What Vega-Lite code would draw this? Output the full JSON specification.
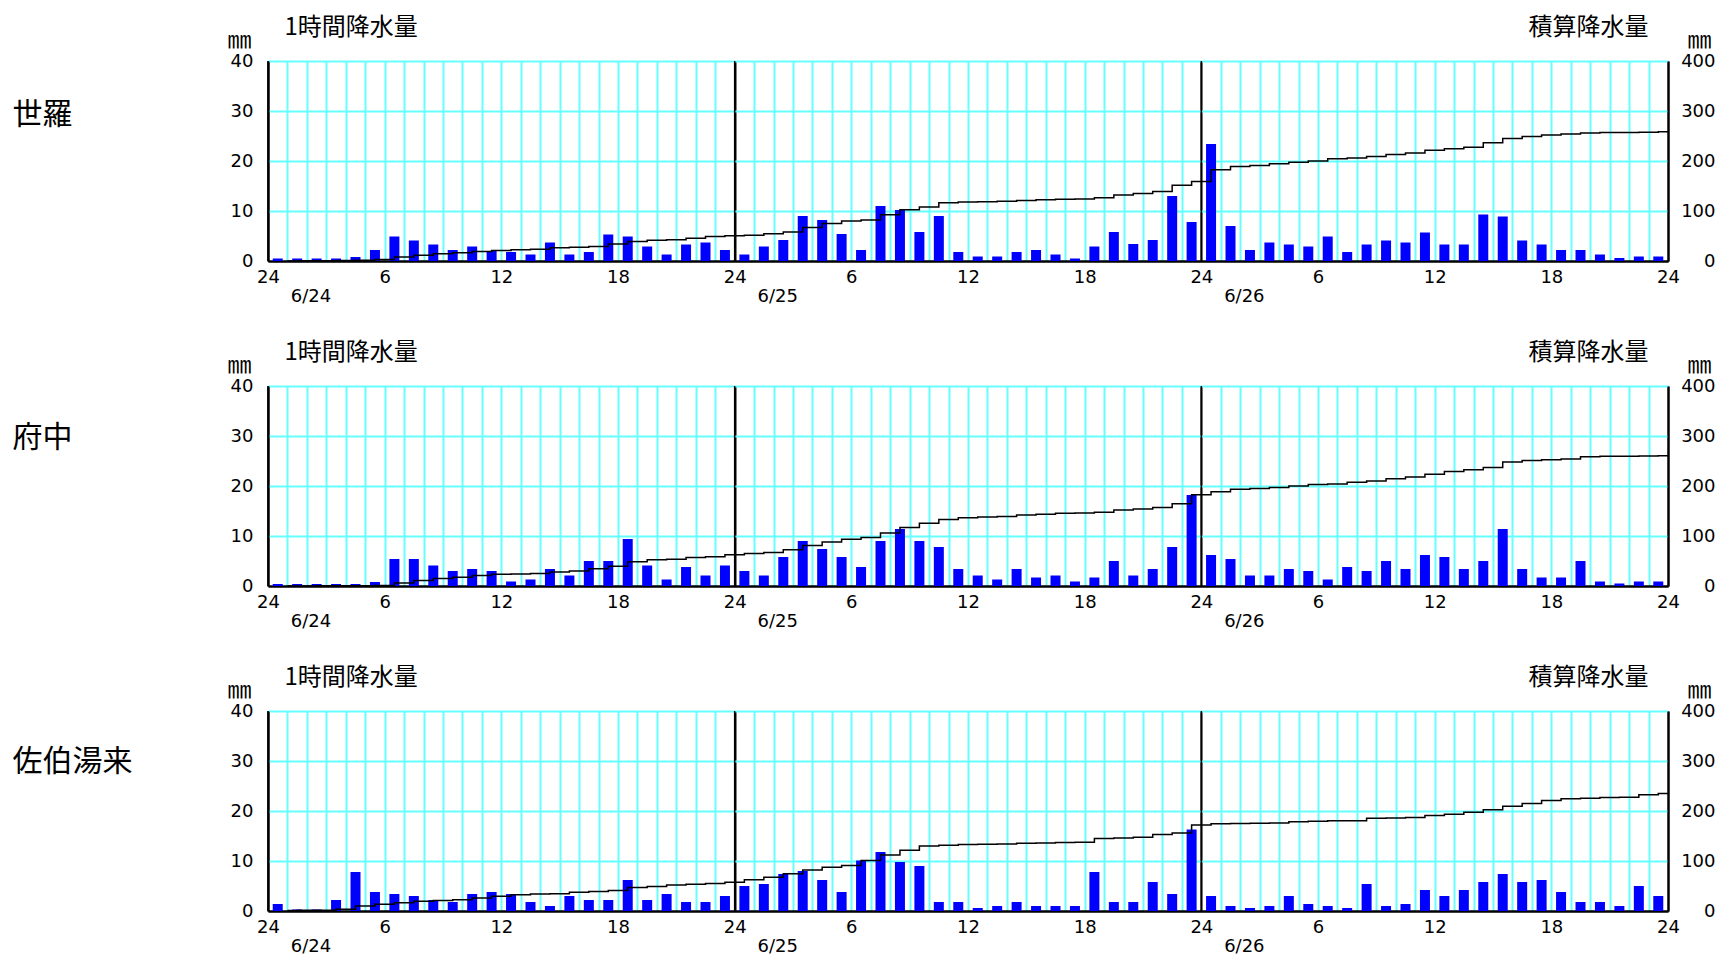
{
"$schema":"https://vega.github.io/schema/vega-lite/v6.json",
"background":"white",
"padding":{"left":12,"top":15,"right":0,"bottom":0},
"config":{"view":{"stroke":null},"font":"DejaVu Sans",
"axis":{"labelFont":"DejaVu Sans","labelFontSize":18,"labelColor":"black","ticks":false,"domainColor":"black","domainWidth":2,"titleFont":"Noto Sans CJK JP","titleFontWeight":"normal","titleColor":"black","titleAngle":0,"titleAlign":"left","titleBaseline":"middle"}},
"spacing":125,
"bounds":"flush",
"datasets":{
"days":[{"day":"6/24","h":0},{"day":"6/25","h":24},{"day":"6/26","h":48}],
"rain":[
{"st":"世羅","h":1,"r":0.5,"c":0.2},{"st":"世羅","h":2,"r":0.5,"c":0.4},{"st":"世羅","h":3,"r":0.5,"c":0.6},{"st":"世羅","h":4,"r":0.5,"c":0.8},{"st":"世羅","h":5,"r":0.8,"c":1.3},{"st":"世羅","h":6,"r":2.2,"c":3.2},{"st":"世羅","h":7,"r":4.9,"c":7.8},{"st":"世羅","h":8,"r":4.1,"c":11.6},{"st":"世羅","h":9,"r":3.3,"c":14.6},{"st":"世羅","h":10,"r":2.2,"c":16.5},{"st":"世羅","h":11,"r":2.9,"c":19.1},{"st":"世羅","h":12,"r":2.0,"c":20.8},{"st":"世羅","h":13,"r":1.8,"c":22.3},{"st":"世羅","h":14,"r":1.3,"c":23.3},{"st":"世羅","h":15,"r":3.7,"c":26.7},{"st":"世羅","h":16,"r":1.3,"c":27.7},{"st":"世羅","h":17,"r":1.8,"c":29.2},{"st":"世羅","h":18,"r":5.3,"c":34.2},{"st":"世羅","h":19,"r":4.9,"c":38.8},{"st":"世羅","h":20,"r":2.9,"c":41.4},{"st":"世羅","h":21,"r":1.3,"c":42.4},{"st":"世羅","h":22,"r":3.3,"c":45.4},{"st":"世羅","h":23,"r":3.7,"c":48.8},{"st":"世羅","h":24,"r":2.2,"c":50.7},
{"st":"世羅","h":25,"r":1.3,"c":51.7},{"st":"世羅","h":26,"r":2.9,"c":54.3},{"st":"世羅","h":27,"r":4.2,"c":58.2},{"st":"世羅","h":28,"r":9.0,"c":66.9},{"st":"世羅","h":29,"r":8.2,"c":74.8},{"st":"世羅","h":30,"r":5.4,"c":79.9},{"st":"世羅","h":31,"r":2.2,"c":81.8},{"st":"世羅","h":32,"r":11.0,"c":92.5},{"st":"世羅","h":33,"r":10.2,"c":102.4},{"st":"世羅","h":34,"r":5.8,"c":107.9},{"st":"世羅","h":35,"r":9.0,"c":116.6},{"st":"世羅","h":36,"r":1.8,"c":118.1},{"st":"世羅","h":37,"r":0.9,"c":118.7},{"st":"世羅","h":38,"r":0.9,"c":119.3},{"st":"世羅","h":39,"r":1.8,"c":120.8},{"st":"世羅","h":40,"r":2.2,"c":122.7},{"st":"世羅","h":41,"r":1.3,"c":123.7},{"st":"世羅","h":42,"r":0.5,"c":123.9},{"st":"世羅","h":43,"r":2.9,"c":126.5},{"st":"世羅","h":44,"r":5.8,"c":132.0},{"st":"世羅","h":45,"r":3.4,"c":135.1},{"st":"世羅","h":46,"r":4.2,"c":139.0},{"st":"世羅","h":47,"r":13.0,"c":151.7},{"st":"世羅","h":48,"r":7.8,"c":159.2},
{"st":"世羅","h":49,"r":23.4,"c":182.3},{"st":"世羅","h":50,"r":7.0,"c":189.0},{"st":"世羅","h":51,"r":2.2,"c":190.9},{"st":"世羅","h":52,"r":3.7,"c":194.3},{"st":"世羅","h":53,"r":3.3,"c":197.3},{"st":"世羅","h":54,"r":2.9,"c":199.9},{"st":"世羅","h":55,"r":4.9,"c":204.5},{"st":"世羅","h":56,"r":1.8,"c":206.0},{"st":"世羅","h":57,"r":3.3,"c":209.0},{"st":"世羅","h":58,"r":4.1,"c":212.8},{"st":"世羅","h":59,"r":3.7,"c":216.2},{"st":"世羅","h":60,"r":5.7,"c":221.6},{"st":"世羅","h":61,"r":3.3,"c":224.6},{"st":"世羅","h":62,"r":3.3,"c":227.6},{"st":"世羅","h":63,"r":9.3,"c":236.6},{"st":"世羅","h":64,"r":8.9,"c":245.2},{"st":"世羅","h":65,"r":4.1,"c":249.0},{"st":"世羅","h":66,"r":3.3,"c":252.0},{"st":"世羅","h":67,"r":2.2,"c":253.9},{"st":"世羅","h":68,"r":2.2,"c":255.8},{"st":"世羅","h":69,"r":1.3,"c":256.8},{"st":"世羅","h":70,"r":0.6,"c":257.1},{"st":"世羅","h":71,"r":0.9,"c":257.7},{"st":"世羅","h":72,"r":0.9,"c":258.3},
{"st":"府中","h":1,"r":0.4,"c":0.1},{"st":"府中","h":2,"r":0.4,"c":0.2},{"st":"府中","h":3,"r":0.4,"c":0.3},{"st":"府中","h":4,"r":0.4,"c":0.4},{"st":"府中","h":5,"r":0.4,"c":0.5},{"st":"府中","h":6,"r":0.8,"c":1.0},{"st":"府中","h":7,"r":5.4,"c":6.1},{"st":"府中","h":8,"r":5.4,"c":11.2},{"st":"府中","h":9,"r":4.1,"c":15.0},{"st":"府中","h":10,"r":3.0,"c":17.7},{"st":"府中","h":11,"r":3.4,"c":20.8},{"st":"府中","h":12,"r":3.0,"c":23.5},{"st":"府中","h":13,"r":0.9,"c":24.1},{"st":"府中","h":14,"r":1.3,"c":25.1},{"st":"府中","h":15,"r":3.4,"c":28.2},{"st":"府中","h":16,"r":2.1,"c":30.0},{"st":"府中","h":17,"r":5.0,"c":34.7},{"st":"府中","h":18,"r":5.0,"c":39.4},{"st":"府中","h":19,"r":9.4,"c":48.5},{"st":"府中","h":20,"r":4.1,"c":52.3},{"st":"府中","h":21,"r":1.3,"c":53.3},{"st":"府中","h":22,"r":3.8,"c":56.8},{"st":"府中","h":23,"r":2.1,"c":58.6},{"st":"府中","h":24,"r":4.1,"c":62.4},
{"st":"府中","h":25,"r":3.0,"c":65.1},{"st":"府中","h":26,"r":2.1,"c":66.9},{"st":"府中","h":27,"r":5.8,"c":72.4},{"st":"府中","h":28,"r":9.0,"c":81.1},{"st":"府中","h":29,"r":7.4,"c":88.2},{"st":"府中","h":30,"r":5.8,"c":93.7},{"st":"府中","h":31,"r":3.8,"c":97.2},{"st":"府中","h":32,"r":9.0,"c":105.9},{"st":"府中","h":33,"r":11.4,"c":117.0},{"st":"府中","h":34,"r":9.0,"c":125.7},{"st":"府中","h":35,"r":7.8,"c":133.2},{"st":"府中","h":36,"r":3.4,"c":136.3},{"st":"府中","h":37,"r":2.1,"c":138.1},{"st":"府中","h":38,"r":1.3,"c":139.1},{"st":"府中","h":39,"r":3.4,"c":142.2},{"st":"府中","h":40,"r":1.7,"c":143.6},{"st":"府中","h":41,"r":2.1,"c":145.4},{"st":"府中","h":42,"r":0.9,"c":146.0},{"st":"府中","h":43,"r":1.7,"c":147.4},{"st":"府中","h":44,"r":5.0,"c":152.1},{"st":"府中","h":45,"r":2.1,"c":153.9},{"st":"府中","h":46,"r":3.4,"c":157.0},{"st":"府中","h":47,"r":7.8,"c":164.5},{"st":"府中","h":48,"r":18.2,"c":182.4},
{"st":"府中","h":49,"r":6.2,"c":188.3},{"st":"府中","h":50,"r":5.4,"c":193.4},{"st":"府中","h":51,"r":2.1,"c":195.2},{"st":"府中","h":52,"r":2.1,"c":197.0},{"st":"府中","h":53,"r":3.4,"c":200.1},{"st":"府中","h":54,"r":3.0,"c":202.8},{"st":"府中","h":55,"r":1.3,"c":203.8},{"st":"府中","h":56,"r":3.8,"c":207.3},{"st":"府中","h":57,"r":3.0,"c":210.0},{"st":"府中","h":58,"r":5.0,"c":214.7},{"st":"府中","h":59,"r":3.4,"c":217.8},{"st":"府中","h":60,"r":6.2,"c":223.7},{"st":"府中","h":61,"r":5.8,"c":229.2},{"st":"府中","h":62,"r":3.4,"c":232.3},{"st":"府中","h":63,"r":5.0,"c":237.0},{"st":"府中","h":64,"r":11.4,"c":248.1},{"st":"府中","h":65,"r":3.4,"c":251.2},{"st":"府中","h":66,"r":1.7,"c":252.6},{"st":"府中","h":67,"r":1.7,"c":254.0},{"st":"府中","h":68,"r":5.0,"c":258.7},{"st":"府中","h":69,"r":0.9,"c":259.3},{"st":"府中","h":70,"r":0.5,"c":259.5},{"st":"府中","h":71,"r":0.9,"c":260.1},{"st":"府中","h":72,"r":0.9,"c":260.7},
{"st":"佐伯湯来","h":1,"r":1.4,"c":1.1},{"st":"佐伯湯来","h":2,"r":0.3,"c":1.3},{"st":"佐伯湯来","h":3,"r":0.3,"c":1.5},{"st":"佐伯湯来","h":4,"r":2.2,"c":3.4},{"st":"佐伯湯来","h":5,"r":7.8,"c":10.0},{"st":"佐伯湯来","h":6,"r":3.8,"c":13.5},{"st":"佐伯湯来","h":7,"r":3.4,"c":16.6},{"st":"佐伯湯来","h":8,"r":3.0,"c":19.3},{"st":"佐伯湯来","h":9,"r":2.2,"c":21.2},{"st":"佐伯湯来","h":10,"r":1.8,"c":22.7},{"st":"佐伯湯来","h":11,"r":3.4,"c":25.8},{"st":"佐伯湯来","h":12,"r":3.8,"c":29.3},{"st":"佐伯湯来","h":13,"r":3.4,"c":32.4},{"st":"佐伯湯来","h":14,"r":1.8,"c":33.9},{"st":"佐伯湯来","h":15,"r":1.0,"c":34.6},{"st":"佐伯湯来","h":16,"r":3.0,"c":37.3},{"st":"佐伯湯来","h":17,"r":2.2,"c":39.2},{"st":"佐伯湯来","h":18,"r":2.2,"c":41.1},{"st":"佐伯湯来","h":19,"r":6.2,"c":47.0},{"st":"佐伯湯来","h":20,"r":2.2,"c":48.9},{"st":"佐伯湯来","h":21,"r":3.4,"c":52.0},{"st":"佐伯湯来","h":22,"r":1.8,"c":53.5},{"st":"佐伯湯来","h":23,"r":1.8,"c":55.0},{"st":"佐伯湯来","h":24,"r":3.0,"c":57.7},
{"st":"佐伯湯来","h":25,"r":5.0,"c":62.3},{"st":"佐伯湯来","h":26,"r":5.4,"c":67.3},{"st":"佐伯湯来","h":27,"r":7.4,"c":74.3},{"st":"佐伯湯来","h":28,"r":8.0,"c":81.9},{"st":"佐伯湯来","h":29,"r":6.2,"c":87.7},{"st":"佐伯湯来","h":30,"r":3.8,"c":91.1},{"st":"佐伯湯来","h":31,"r":10.1,"c":100.8},{"st":"佐伯湯来","h":32,"r":11.8,"c":112.2},{"st":"佐伯湯来","h":33,"r":9.8,"c":121.6},{"st":"佐伯湯来","h":34,"r":9.0,"c":130.2},{"st":"佐伯湯来","h":35,"r":1.8,"c":131.6},{"st":"佐伯湯来","h":36,"r":1.8,"c":133.0},{"st":"佐伯湯来","h":37,"r":0.6,"c":133.3},{"st":"佐伯湯来","h":38,"r":1.0,"c":134.0},{"st":"佐伯湯来","h":39,"r":1.8,"c":135.4},{"st":"佐伯湯来","h":40,"r":1.0,"c":136.1},{"st":"佐伯湯来","h":41,"r":1.0,"c":136.8},{"st":"佐伯湯来","h":42,"r":1.0,"c":137.4},{"st":"佐伯湯来","h":43,"r":7.8,"c":144.8},{"st":"佐伯湯来","h":44,"r":1.8,"c":146.2},{"st":"佐伯湯来","h":45,"r":1.8,"c":147.6},{"st":"佐伯湯来","h":46,"r":5.8,"c":153.0},{"st":"佐伯湯来","h":47,"r":3.4,"c":156.0},{"st":"佐伯湯来","h":48,"r":16.3,"c":171.8},
{"st":"佐伯湯来","h":49,"r":3.0,"c":174.4},{"st":"佐伯湯来","h":50,"r":1.0,"c":175.0},{"st":"佐伯湯来","h":51,"r":0.6,"c":175.3},{"st":"佐伯湯来","h":52,"r":1.0,"c":176.0},{"st":"佐伯湯来","h":53,"r":3.0,"c":178.6},{"st":"佐伯湯来","h":54,"r":1.4,"c":179.6},{"st":"佐伯湯来","h":55,"r":1.0,"c":180.3},{"st":"佐伯湯来","h":56,"r":0.6,"c":180.5},{"st":"佐伯湯来","h":57,"r":5.4,"c":185.5},{"st":"佐伯湯来","h":58,"r":1.0,"c":186.1},{"st":"佐伯湯来","h":59,"r":1.4,"c":187.1},{"st":"佐伯湯来","h":60,"r":4.2,"c":190.9},{"st":"佐伯湯来","h":61,"r":3.0,"c":193.5},{"st":"佐伯湯来","h":62,"r":4.2,"c":197.3},{"st":"佐伯湯来","h":63,"r":5.8,"c":202.7},{"st":"佐伯湯来","h":64,"r":7.4,"c":209.7},{"st":"佐伯湯来","h":65,"r":5.8,"c":215.1},{"st":"佐伯湯来","h":66,"r":6.2,"c":220.9},{"st":"佐伯湯来","h":67,"r":3.8,"c":224.3},{"st":"佐伯湯来","h":68,"r":1.8,"c":225.7},{"st":"佐伯湯来","h":69,"r":1.8,"c":227.1},{"st":"佐伯湯来","h":70,"r":1.0,"c":227.7},{"st":"佐伯湯来","h":71,"r":5.0,"c":232.3},{"st":"佐伯湯来","h":72,"r":3.0,"c":234.9}
]},
"vconcat":[
{"width":1400,"height":200,
"layer":[
{"data":{"name":"rain"},"transform":[{"filter":{"field":"st","equal":"世羅"}}],
"mark":{"type":"bar","width":10,"xOffset":-9.72,"color":"#0000ff"},
"encoding":{
"x":{"field":"h","type":"quantitative","scale":{"domain":[0,72],"nice":false,"zero":false,"padding":0},
"axis":{"values":[0,1,2,3,4,5,6,7,8,9,10,11,12,13,14,15,16,17,18,19,20,21,22,23,24,25,26,27,28,29,30,31,32,33,34,35,36,37,38,39,40,41,42,43,44,45,46,47,48,49,50,51,52,53,54,55,56,57,58,59,60,61,62,63,64,65,66,67,68,69,70,71,72],"labelExpr":"datum.value % 6 != 0 ? '' : (datum.value % 24 == 0 ? '24' : '' + (datum.value % 24))","grid":true,"gridColor":{"condition":{"test":"datum.value % 24 == 0","value":"black"},"value":"#66ffff"},"gridWidth":2,"labelPadding":7,"labelFlush":false,"labelOverlap":false,"title":"1時間降水量","titleFontSize":24,"titleX":16,"titleY":-233.5}},
"y":{"field":"r","type":"quantitative","scale":{"domain":[0,40],"nice":false},
"axis":{"orient":"left","values":[0,10,20,30,40],"grid":true,"gridColor":{"condition":{"test":"datum.value == 0","value":"black"},"value":"#66ffff"},"gridWidth":2,"labelPadding":15,"title":"世羅","titleFontSize":30,"titleX":-256,"titleY":53}}}},
{"data":{"name":"rain"},"transform":[{"filter":{"field":"st","equal":"世羅"}}],
"mark":{"type":"line","interpolate":"step","color":"black","strokeWidth":1.5},
"encoding":{
"x":{"field":"h","type":"quantitative","scale":{"domain":[0,72],"nice":false,"zero":false,"padding":0},
"axis":{"values":[0,1,2,3,4,5,6,7,8,9,10,11,12,13,14,15,16,17,18,19,20,21,22,23,24,25,26,27,28,29,30,31,32,33,34,35,36,37,38,39,40,41,42,43,44,45,46,47,48,49,50,51,52,53,54,55,56,57,58,59,60,61,62,63,64,65,66,67,68,69,70,71,72],"labelExpr":"datum.value % 6 != 0 ? '' : (datum.value % 24 == 0 ? '24' : '' + (datum.value % 24))","grid":true,"gridColor":{"condition":{"test":"datum.value % 24 == 0","value":"black"},"value":"#66ffff"},"gridWidth":2,"labelPadding":7,"labelFlush":false,"labelOverlap":false,"title":"1時間降水量","titleFontSize":24,"titleX":16,"titleY":-233.5}},
"y":{"field":"c","type":"quantitative","scale":{"domain":[0,400],"nice":false},
"axis":{"orient":"right","values":[0,100,200,300,400],"grid":false,"zindex":1,"labelAlign":"right","labelPadding":47,"title":"積算降水量","titleFontSize":24,"titleX":-140,"titleY":-33.5}}}},
{"data":{"name":"days"},
"mark":{"type":"rule","color":"black","strokeWidth":1.5},
"encoding":{
"x":{"field":"h","type":"quantitative","scale":{"domain":[0,72],"nice":false,"zero":false,"padding":0},
"axis":{"values":[0,1,2,3,4,5,6,7,8,9,10,11,12,13,14,15,16,17,18,19,20,21,22,23,24,25,26,27,28,29,30,31,32,33,34,35,36,37,38,39,40,41,42,43,44,45,46,47,48,49,50,51,52,53,54,55,56,57,58,59,60,61,62,63,64,65,66,67,68,69,70,71,72],"labelExpr":"datum.value % 6 != 0 ? '' : (datum.value % 24 == 0 ? '24' : '' + (datum.value % 24))","grid":true,"gridColor":{"condition":{"test":"datum.value % 24 == 0","value":"black"},"value":"#66ffff"},"gridWidth":2,"labelPadding":7,"labelFlush":false,"labelOverlap":false,"title":"1時間降水量","titleFontSize":24,"titleX":16,"titleY":-233.5}},
"y":{"datum":0,"type":"quantitative","scale":{"domain":[0,40],"nice":false},
"axis":{"orient":"right","labels":false,"domain":false,"grid":false,"title":"㎜","titleFontSize":24,"titleX":19,"titleY":-21}},
"y2":{"datum":40}}},
{"data":{"name":"days"},
"mark":{"type":"text","align":"center","baseline":"middle","dx":43,"dy":36,"font":"DejaVu Sans","fontSize":18,"color":"black"},
"encoding":{
"x":{"field":"h","type":"quantitative","scale":{"domain":[0,72],"nice":false,"zero":false,"padding":0},
"axis":{"values":[0,1,2,3,4,5,6,7,8,9,10,11,12,13,14,15,16,17,18,19,20,21,22,23,24,25,26,27,28,29,30,31,32,33,34,35,36,37,38,39,40,41,42,43,44,45,46,47,48,49,50,51,52,53,54,55,56,57,58,59,60,61,62,63,64,65,66,67,68,69,70,71,72],"labelExpr":"datum.value % 6 != 0 ? '' : (datum.value % 24 == 0 ? '24' : '' + (datum.value % 24))","grid":true,"gridColor":{"condition":{"test":"datum.value % 24 == 0","value":"black"},"value":"#66ffff"},"gridWidth":2,"labelPadding":7,"labelFlush":false,"labelOverlap":false,"title":"1時間降水量","titleFontSize":24,"titleX":16,"titleY":-233.5}},
"y":{"datum":0,"type":"quantitative","scale":{"domain":[0,40],"nice":false},
"axis":{"orient":"left","labels":false,"domain":false,"grid":false,"title":"㎜","titleFontSize":24,"titleX":-41,"titleY":-21}},
"text":{"field":"day"}}}
],
"resolve":{"scale":{"y":"independent"}}},
{"width":1400,"height":200,
"layer":[
{"data":{"name":"rain"},"transform":[{"filter":{"field":"st","equal":"府中"}}],
"mark":{"type":"bar","width":10,"xOffset":-9.72,"color":"#0000ff"},
"encoding":{
"x":{"field":"h","type":"quantitative","scale":{"domain":[0,72],"nice":false,"zero":false,"padding":0},
"axis":{"values":[0,1,2,3,4,5,6,7,8,9,10,11,12,13,14,15,16,17,18,19,20,21,22,23,24,25,26,27,28,29,30,31,32,33,34,35,36,37,38,39,40,41,42,43,44,45,46,47,48,49,50,51,52,53,54,55,56,57,58,59,60,61,62,63,64,65,66,67,68,69,70,71,72],"labelExpr":"datum.value % 6 != 0 ? '' : (datum.value % 24 == 0 ? '24' : '' + (datum.value % 24))","grid":true,"gridColor":{"condition":{"test":"datum.value % 24 == 0","value":"black"},"value":"#66ffff"},"gridWidth":2,"labelPadding":7,"labelFlush":false,"labelOverlap":false,"title":"1時間降水量","titleFontSize":24,"titleX":16,"titleY":-233.5}},
"y":{"field":"r","type":"quantitative","scale":{"domain":[0,40],"nice":false},
"axis":{"orient":"left","values":[0,10,20,30,40],"grid":true,"gridColor":{"condition":{"test":"datum.value == 0","value":"black"},"value":"#66ffff"},"gridWidth":2,"labelPadding":15,"title":"府中","titleFontSize":30,"titleX":-256,"titleY":51}}}},
{"data":{"name":"rain"},"transform":[{"filter":{"field":"st","equal":"府中"}}],
"mark":{"type":"line","interpolate":"step","color":"black","strokeWidth":1.5},
"encoding":{
"x":{"field":"h","type":"quantitative","scale":{"domain":[0,72],"nice":false,"zero":false,"padding":0},
"axis":{"values":[0,1,2,3,4,5,6,7,8,9,10,11,12,13,14,15,16,17,18,19,20,21,22,23,24,25,26,27,28,29,30,31,32,33,34,35,36,37,38,39,40,41,42,43,44,45,46,47,48,49,50,51,52,53,54,55,56,57,58,59,60,61,62,63,64,65,66,67,68,69,70,71,72],"labelExpr":"datum.value % 6 != 0 ? '' : (datum.value % 24 == 0 ? '24' : '' + (datum.value % 24))","grid":true,"gridColor":{"condition":{"test":"datum.value % 24 == 0","value":"black"},"value":"#66ffff"},"gridWidth":2,"labelPadding":7,"labelFlush":false,"labelOverlap":false,"title":"1時間降水量","titleFontSize":24,"titleX":16,"titleY":-233.5}},
"y":{"field":"c","type":"quantitative","scale":{"domain":[0,400],"nice":false},
"axis":{"orient":"right","values":[0,100,200,300,400],"grid":false,"zindex":1,"labelAlign":"right","labelPadding":47,"title":"積算降水量","titleFontSize":24,"titleX":-140,"titleY":-33.5}}}},
{"data":{"name":"days"},
"mark":{"type":"rule","color":"black","strokeWidth":1.5},
"encoding":{
"x":{"field":"h","type":"quantitative","scale":{"domain":[0,72],"nice":false,"zero":false,"padding":0},
"axis":{"values":[0,1,2,3,4,5,6,7,8,9,10,11,12,13,14,15,16,17,18,19,20,21,22,23,24,25,26,27,28,29,30,31,32,33,34,35,36,37,38,39,40,41,42,43,44,45,46,47,48,49,50,51,52,53,54,55,56,57,58,59,60,61,62,63,64,65,66,67,68,69,70,71,72],"labelExpr":"datum.value % 6 != 0 ? '' : (datum.value % 24 == 0 ? '24' : '' + (datum.value % 24))","grid":true,"gridColor":{"condition":{"test":"datum.value % 24 == 0","value":"black"},"value":"#66ffff"},"gridWidth":2,"labelPadding":7,"labelFlush":false,"labelOverlap":false,"title":"1時間降水量","titleFontSize":24,"titleX":16,"titleY":-233.5}},
"y":{"datum":0,"type":"quantitative","scale":{"domain":[0,40],"nice":false},
"axis":{"orient":"right","labels":false,"domain":false,"grid":false,"title":"㎜","titleFontSize":24,"titleX":19,"titleY":-21}},
"y2":{"datum":40}}},
{"data":{"name":"days"},
"mark":{"type":"text","align":"center","baseline":"middle","dx":43,"dy":36,"font":"DejaVu Sans","fontSize":18,"color":"black"},
"encoding":{
"x":{"field":"h","type":"quantitative","scale":{"domain":[0,72],"nice":false,"zero":false,"padding":0},
"axis":{"values":[0,1,2,3,4,5,6,7,8,9,10,11,12,13,14,15,16,17,18,19,20,21,22,23,24,25,26,27,28,29,30,31,32,33,34,35,36,37,38,39,40,41,42,43,44,45,46,47,48,49,50,51,52,53,54,55,56,57,58,59,60,61,62,63,64,65,66,67,68,69,70,71,72],"labelExpr":"datum.value % 6 != 0 ? '' : (datum.value % 24 == 0 ? '24' : '' + (datum.value % 24))","grid":true,"gridColor":{"condition":{"test":"datum.value % 24 == 0","value":"black"},"value":"#66ffff"},"gridWidth":2,"labelPadding":7,"labelFlush":false,"labelOverlap":false,"title":"1時間降水量","titleFontSize":24,"titleX":16,"titleY":-233.5}},
"y":{"datum":0,"type":"quantitative","scale":{"domain":[0,40],"nice":false},
"axis":{"orient":"left","labels":false,"domain":false,"grid":false,"title":"㎜","titleFontSize":24,"titleX":-41,"titleY":-21}},
"text":{"field":"day"}}}
],
"resolve":{"scale":{"y":"independent"}}},
{"width":1400,"height":200,
"layer":[
{"data":{"name":"rain"},"transform":[{"filter":{"field":"st","equal":"佐伯湯来"}}],
"mark":{"type":"bar","width":10,"xOffset":-9.72,"color":"#0000ff"},
"encoding":{
"x":{"field":"h","type":"quantitative","scale":{"domain":[0,72],"nice":false,"zero":false,"padding":0},
"axis":{"values":[0,1,2,3,4,5,6,7,8,9,10,11,12,13,14,15,16,17,18,19,20,21,22,23,24,25,26,27,28,29,30,31,32,33,34,35,36,37,38,39,40,41,42,43,44,45,46,47,48,49,50,51,52,53,54,55,56,57,58,59,60,61,62,63,64,65,66,67,68,69,70,71,72],"labelExpr":"datum.value % 6 != 0 ? '' : (datum.value % 24 == 0 ? '24' : '' + (datum.value % 24))","grid":true,"gridColor":{"condition":{"test":"datum.value % 24 == 0","value":"black"},"value":"#66ffff"},"gridWidth":2,"labelPadding":7,"labelFlush":false,"labelOverlap":false,"title":"1時間降水量","titleFontSize":24,"titleX":16,"titleY":-233.5}},
"y":{"field":"r","type":"quantitative","scale":{"domain":[0,40],"nice":false},
"axis":{"orient":"left","values":[0,10,20,30,40],"grid":true,"gridColor":{"condition":{"test":"datum.value == 0","value":"black"},"value":"#66ffff"},"gridWidth":2,"labelPadding":15,"title":"佐伯湯来","titleFontSize":30,"titleX":-256,"titleY":50}}}},
{"data":{"name":"rain"},"transform":[{"filter":{"field":"st","equal":"佐伯湯来"}}],
"mark":{"type":"line","interpolate":"step","color":"black","strokeWidth":1.5},
"encoding":{
"x":{"field":"h","type":"quantitative","scale":{"domain":[0,72],"nice":false,"zero":false,"padding":0},
"axis":{"values":[0,1,2,3,4,5,6,7,8,9,10,11,12,13,14,15,16,17,18,19,20,21,22,23,24,25,26,27,28,29,30,31,32,33,34,35,36,37,38,39,40,41,42,43,44,45,46,47,48,49,50,51,52,53,54,55,56,57,58,59,60,61,62,63,64,65,66,67,68,69,70,71,72],"labelExpr":"datum.value % 6 != 0 ? '' : (datum.value % 24 == 0 ? '24' : '' + (datum.value % 24))","grid":true,"gridColor":{"condition":{"test":"datum.value % 24 == 0","value":"black"},"value":"#66ffff"},"gridWidth":2,"labelPadding":7,"labelFlush":false,"labelOverlap":false,"title":"1時間降水量","titleFontSize":24,"titleX":16,"titleY":-233.5}},
"y":{"field":"c","type":"quantitative","scale":{"domain":[0,400],"nice":false},
"axis":{"orient":"right","values":[0,100,200,300,400],"grid":false,"zindex":1,"labelAlign":"right","labelPadding":47,"title":"積算降水量","titleFontSize":24,"titleX":-140,"titleY":-33.5}}}},
{"data":{"name":"days"},
"mark":{"type":"rule","color":"black","strokeWidth":1.5},
"encoding":{
"x":{"field":"h","type":"quantitative","scale":{"domain":[0,72],"nice":false,"zero":false,"padding":0},
"axis":{"values":[0,1,2,3,4,5,6,7,8,9,10,11,12,13,14,15,16,17,18,19,20,21,22,23,24,25,26,27,28,29,30,31,32,33,34,35,36,37,38,39,40,41,42,43,44,45,46,47,48,49,50,51,52,53,54,55,56,57,58,59,60,61,62,63,64,65,66,67,68,69,70,71,72],"labelExpr":"datum.value % 6 != 0 ? '' : (datum.value % 24 == 0 ? '24' : '' + (datum.value % 24))","grid":true,"gridColor":{"condition":{"test":"datum.value % 24 == 0","value":"black"},"value":"#66ffff"},"gridWidth":2,"labelPadding":7,"labelFlush":false,"labelOverlap":false,"title":"1時間降水量","titleFontSize":24,"titleX":16,"titleY":-233.5}},
"y":{"datum":0,"type":"quantitative","scale":{"domain":[0,40],"nice":false},
"axis":{"orient":"right","labels":false,"domain":false,"grid":false,"title":"㎜","titleFontSize":24,"titleX":19,"titleY":-21}},
"y2":{"datum":40}}},
{"data":{"name":"days"},
"mark":{"type":"text","align":"center","baseline":"middle","dx":43,"dy":36,"font":"DejaVu Sans","fontSize":18,"color":"black"},
"encoding":{
"x":{"field":"h","type":"quantitative","scale":{"domain":[0,72],"nice":false,"zero":false,"padding":0},
"axis":{"values":[0,1,2,3,4,5,6,7,8,9,10,11,12,13,14,15,16,17,18,19,20,21,22,23,24,25,26,27,28,29,30,31,32,33,34,35,36,37,38,39,40,41,42,43,44,45,46,47,48,49,50,51,52,53,54,55,56,57,58,59,60,61,62,63,64,65,66,67,68,69,70,71,72],"labelExpr":"datum.value % 6 != 0 ? '' : (datum.value % 24 == 0 ? '24' : '' + (datum.value % 24))","grid":true,"gridColor":{"condition":{"test":"datum.value % 24 == 0","value":"black"},"value":"#66ffff"},"gridWidth":2,"labelPadding":7,"labelFlush":false,"labelOverlap":false,"title":"1時間降水量","titleFontSize":24,"titleX":16,"titleY":-233.5}},
"y":{"datum":0,"type":"quantitative","scale":{"domain":[0,40],"nice":false},
"axis":{"orient":"left","labels":false,"domain":false,"grid":false,"title":"㎜","titleFontSize":24,"titleX":-41,"titleY":-21}},
"text":{"field":"day"}}}
],
"resolve":{"scale":{"y":"independent"}}}
]
}
